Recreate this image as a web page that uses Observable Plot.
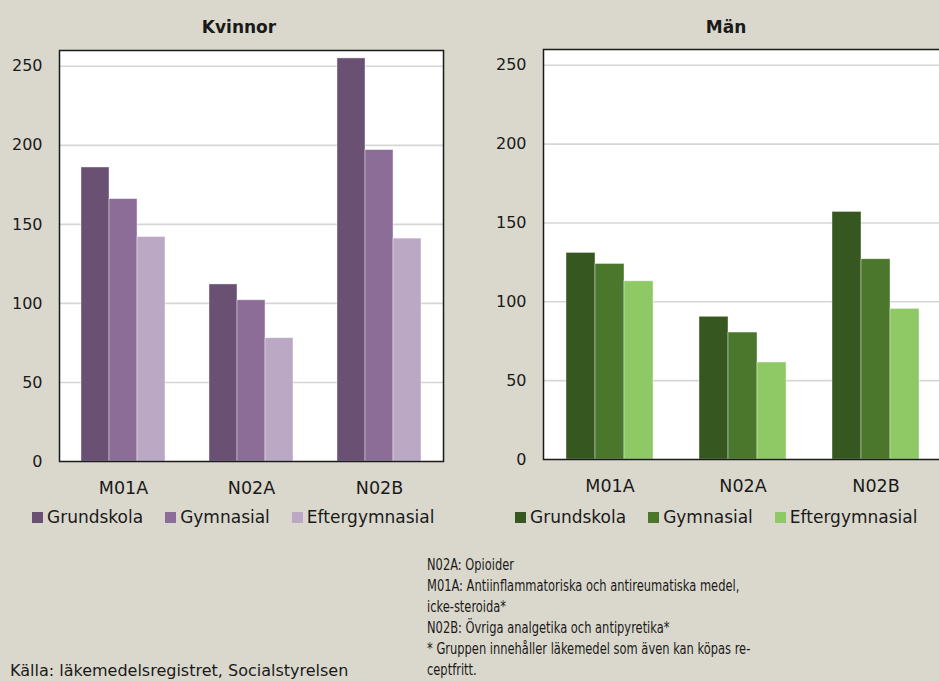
<!DOCTYPE html>
<html><head><meta charset="utf-8">
<script src="https://cdn.jsdelivr.net/npm/d3@7"></script>
<script src="https://cdn.jsdelivr.net/npm/@observablehq/plot@0.6"></script>
<style>
body{margin:0;background:#dad8cc;font-family:"DejaVu Sans",sans-serif;color:#1a1a1a;}
#wrap{position:relative;width:939px;height:681px;overflow:hidden;background:#dad8cc;}
.title{position:absolute;top:16px;font-weight:bold;font-size:17px;line-height:22px;transform:translateX(-50%);white-space:nowrap}
.panel{position:absolute;top:0;overflow:visible}
.panel svg{max-width:none !important}
.panel svg g[aria-label^="fx-axis"] text{font-size:17.5px}
.legend{position:absolute;top:507px;display:flex;font-size:17px;line-height:20px;white-space:nowrap;align-items:center}
.legend .item{display:flex;align-items:center;margin-right:22px}
.legend .sw{width:11px;height:11px;margin-right:4px}
.notes{position:absolute;left:427px;top:555px;font-family:"DejaVu Sans Condensed","DejaVu Sans",sans-serif;font-stretch:condensed;font-size:15px;line-height:21px;white-space:nowrap;transform:scaleX(0.85);transform-origin:0 0}
.source{position:absolute;left:10px;top:661px;font-size:16px;line-height:19px;white-space:nowrap}
</style></head>
<body>
<div id="wrap"></div>
<script>
const categories = ["M01A", "N02A", "N02B"];
const levels = ["Grundskola", "Gymnasial", "Eftergymnasial"];
const yTicks = [0, 50, 100, 150, 200, 250];
// values per level, in category order
const kvinnorGrundskola = [186, 112, 255];
const kvinnorGymnasial = [166, 102, 197];
const kvinnorEftergymnasial = [142, 78, 141];
const manGrundskola = [131, 90.5, 157];
const manGymnasial = [124, 80.5, 127];
const manEftergymnasial = [113, 61.5, 95.5];
const kvinnorColors = ["#6a5173", "#8c6d97", "#bba8c4"];
const manColors = ["#375720", "#4a772c", "#8fc965"];
const notes = [
  "N02A: Opioider",
  "M01A: Antiinflammatoriska och antireumatiska medel,",
  "icke-steroida*",
  "N02B: Övriga analgetika och antipyretika*",
  "* Gruppen innehåller läkemedel som även kan köpas re-",
  "ceptfritt."
];
const source = "Källa: läkemedelsregistret, Socialstyrelsen";

function panel(series, colors, m) {
  const data = [];
  categories.forEach((c, i) => levels.forEach((l, j) => data.push({cat: c, level: l, value: series[j][i]})));
  return Plot.plot({
    width: m.width, height: 500,
    marginLeft: m.left, marginRight: m.right, marginTop: m.top, marginBottom: m.bottom,
    style: {background: "transparent", fontFamily: "DejaVu Sans", fontSize: "16px", color: "#1a1a1a", overflow: "visible", maxWidth: "none"},
    fx: {domain: categories, padding: 0, axis: "bottom", label: null, tickSize: 0, tickPadding: 20},
    x: {domain: levels, paddingInner: 0, paddingOuter: 0.77, axis: null},
    y: {domain: [0, 260], ticks: yTicks, tickSize: 0, tickPadding: 17, label: null},
    color: {domain: levels, range: colors},
    marks: [
      Plot.frame({fill: "white", facet: "super"}),
      Plot.ruleY(yTicks.filter(d => d > 0), {stroke: "#d6d6d6", strokeWidth: 1.6}),
      Plot.barY(data, {fx: "cat", x: "level", y: "value", fill: "level", stroke: "#ffffff", strokeOpacity: 0.5, strokeWidth: 0.8}),
      Plot.frame({stroke: "#1a1a1a", strokeWidth: 1.5, facet: "super"})
    ]
  });
}

const wrap = document.getElementById("wrap");
function addPanel(svg, left, width, title, titleX, colors, legendLeft) {
  const p = document.createElement("div");
  p.className = "panel"; p.style.left = left + "px"; p.style.width = width + "px";
  p.appendChild(svg); wrap.appendChild(p);
  const t = document.createElement("div");
  t.className = "title"; t.style.left = titleX + "px"; t.textContent = title;
  wrap.appendChild(t);
  const lg = document.createElement("div");
  lg.className = "legend"; lg.style.left = legendLeft + "px";
  levels.forEach((l, i) => {
    const it = document.createElement("div"); it.className = "item";
    const sw = document.createElement("div"); sw.className = "sw"; sw.style.background = colors[i];
    const tx = document.createElement("span"); tx.textContent = l;
    it.appendChild(sw); it.appendChild(tx); lg.appendChild(it);
  });
  wrap.appendChild(lg);
}

addPanel(panel([kvinnorGrundskola, kvinnorGymnasial, kvinnorEftergymnasial], kvinnorColors,
  {width: 470, left: 58, right: 27, top: 50, bottom: 39}), 0, 470, "Kvinnor", 239, kvinnorColors, 32);
addPanel(panel([manGrundskola, manGymnasial, manEftergymnasial], manColors,
  {width: 480, left: 73, right: 8, top: 49, bottom: 41}), 470, 480, "Män", 726, manColors, 515);

const n = document.createElement("div"); n.className = "notes";
n.innerHTML = notes.map(s => s.replace(/&/g, "&amp;").replace(/</g, "&lt;")).join("<br>");
wrap.appendChild(n);
const s = document.createElement("div"); s.className = "source"; s.textContent = source;
wrap.appendChild(s);
</script>
</body></html>
